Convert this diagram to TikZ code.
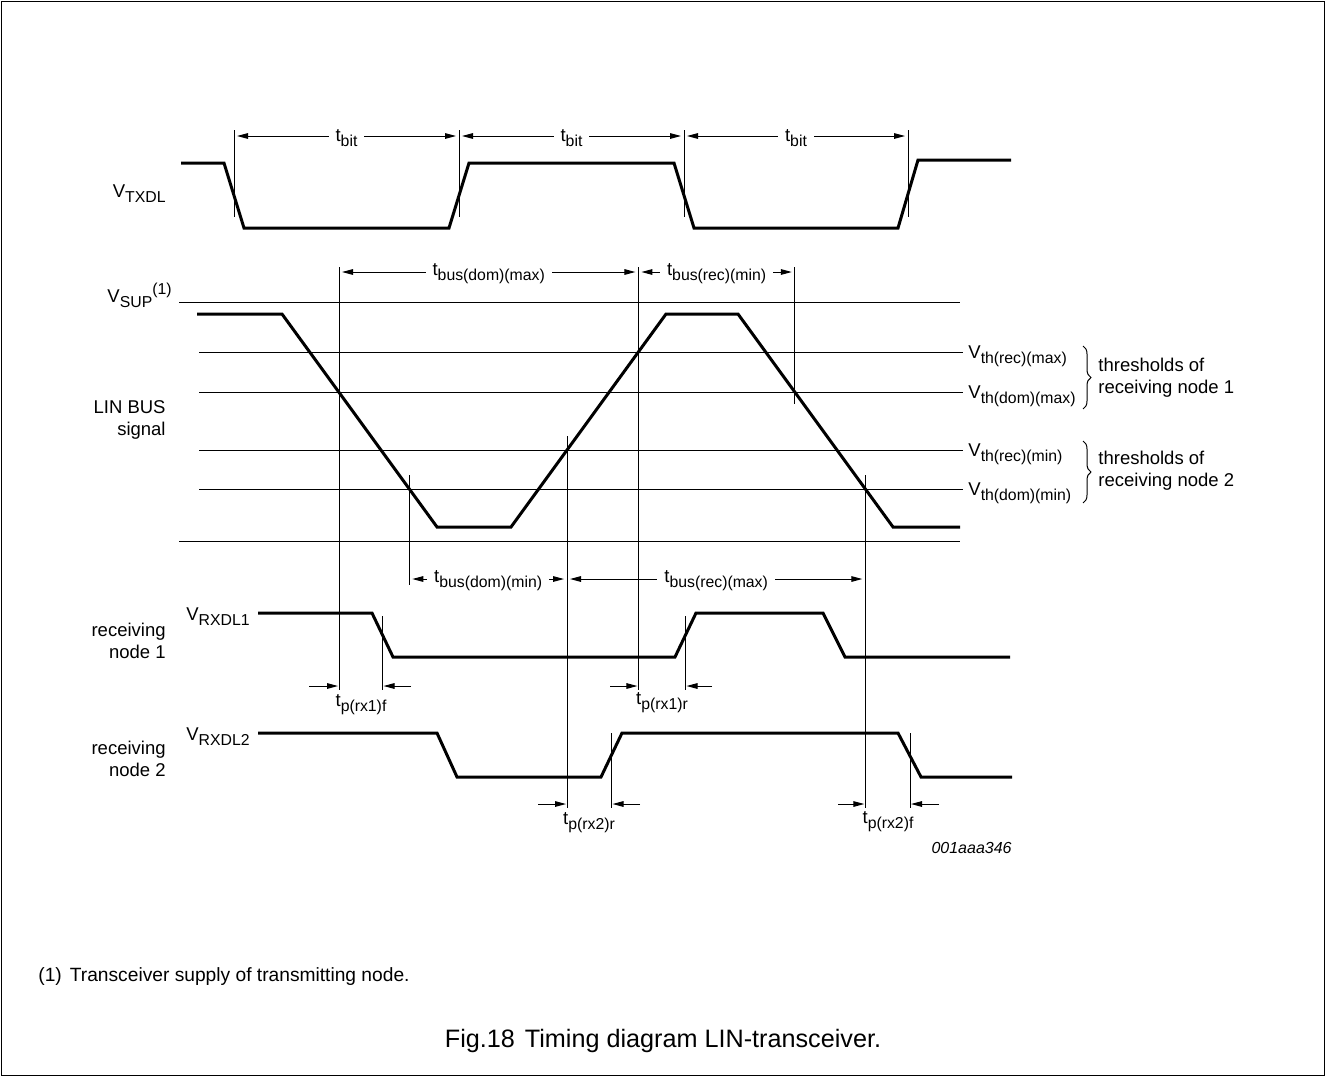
\documentclass[tikz,border=0pt]{standalone}
\usepackage{fontspec}
\setmainfont{Liberation Sans}
\usepackage{tikz}
\usetikzlibrary{arrows.meta,positioning,calc,decorations.pathreplacing}

\newcommand{\lo}[1]{\raisebox{-2.5pt}{\fontsize{7.9}{9}\selectfont #1}}
\newcommand{\hi}[1]{\raisebox{3.8pt}{\fontsize{7.9}{9}\selectfont #1}}

\begin{document}
\begin{tikzpicture}[
    x=0.5pt, y=-0.5pt,
    sig/.style={line width=1.5pt, line join=miter},
    ref/.style={line width=0.5pt},
    dim/.style={line width=0.5pt, -{Triangle[length=5.5pt,width=2.8pt]}, shorten >=0.5pt},
    dimb/.style={line width=0.5pt, {Triangle[length=5.5pt,width=2.8pt]}-{Triangle[length=5.5pt,width=2.8pt]}, shorten >=1.5pt, shorten <=1.5pt},
    lbl/.style={font=\fontsize{9.25}{11}\selectfont, inner sep=0pt},
    dlbl/.style={lbl, fill=white, inner xsep=3.5pt, inner ysep=1pt},
    brc/.style={line width=0.5pt, decorate, decoration={brace, amplitude=4pt}}
]
    \useasboundingbox (0,0) rectangle (1326,1077);
    \draw [line width=0.75pt] (1.5,1.5) rectangle (1324.5,1075.5);

    % V_TXDL
    \node [lbl, anchor=base east] (txdl) at (166,197) {V\lo{TXDL}};
    \draw [sig] (181,163) -- (224,163) -- (244,228) -- (449,228) -- (469,163) -- (674,163) -- (694,228) -- (898,228) -- (918,160) -- (1011,160);
    \foreach \x [count=\i from 0] in {234,459,684,908} {
        \coordinate (b\i) at (\x,136);
        \draw [ref] (\x,130) -- (\x,217);
    }
    \foreach \i [evaluate=\i as \j using int(\i+1)] in {0,1,2}
        \draw [dimb] (b\i) -- (b\j) node [dlbl, midway, yshift=-1pt] {t\lo{bit}};

    % LIN bus
    \node [lbl, anchor=base east] (sup) at (172,302) {V\lo{SUP}\hi{(1)}};
    \node [lbl, align=right, anchor=east] (bus) at (166,420) {LIN BUS\\signal};
    \draw [ref] (179,302) -- (960,302);
    \foreach \y in {352,392,450,489}
        \draw [ref] (199,\y) -- (963,\y);
    \draw [ref] (179,541) -- (960,541);
    \draw [sig] (197,314) -- (282,314) -- (437,527) -- (511,527) -- (666,314) -- (738,314) -- (893,527) -- (960,527);

    \node [lbl, anchor=base west] (threcmax) at (968,358) {V\lo{th(rec)(max)}};
    \node [lbl, anchor=base west] (thdommax) at (968,398) {V\lo{th(dom)(max)}};
    \node [lbl, anchor=base west] (threcmin) at (968,456) {V\lo{th(rec)(min)}};
    \node [lbl, anchor=base west] (thdommin) at (968,495) {V\lo{th(dom)(min)}};
    \draw [brc] (1083,346) -- (1083,409);
    \draw [brc] (1083,441) -- (1083,503);
    \node [lbl, align=left, anchor=west] (grp1) at (1098,378) {thresholds of\\receiving node 1};
    \node [lbl, align=left, anchor=west] (grp2) at (1098,471) {thresholds of\\receiving node 2};

    \coordinate (m1) at (339,272);
    \coordinate (m4) at (638.4,272);
    \coordinate (m5) at (794.8,272);
    \coordinate (m2) at (409.3,579);
    \coordinate (m3) at (567,579);
    \coordinate (m6) at (865.3,579);
    \draw [ref] (339,267) -- (339,690);
    \draw [ref] (638.4,267) -- (638.4,690);
    \draw [ref] (794.8,267) -- (794.8,404);
    \draw [ref] (409.3,475) -- (409.3,585);
    \draw [ref] (567,436) -- (567,808);
    \draw [ref] (865.3,475) -- (865.3,808);

    \draw [dimb] (m1) -- (m4) node [dlbl, midway, yshift=-1pt] {t\lo{bus(dom)(max)}};
    \draw [dimb] (m4) -- (m5) node [dlbl, midway, yshift=-1pt] {t\lo{bus(rec)(min)}};
    \draw [dimb] (m2) -- (m3) node [dlbl, midway, yshift=-1pt] {t\lo{bus(dom)(min)}};
    \draw [dimb] (m3) -- (m6) node [dlbl, midway, yshift=-1pt] {t\lo{bus(rec)(max)}};

    % receiving node 1
    \node [lbl, anchor=base west] (rx1) at (186,620) {V\lo{RXDL1}};
    \node [lbl, align=right, anchor=east] (rn1) at (166,641) {receiving\\node 1};
    \draw [sig] (258,613) -- (372,613) -- (393,657) -- (675,657) -- (696,613) -- (823,613) -- (845,657) -- (1010,657);
    \draw [ref] (382.5,616) -- (382.5,690);
    \draw [ref] (685.5,616) -- (685.5,690);
    \coordinate (p1a) at (309,686);
    \coordinate (p1b) at (411,686);
    \coordinate (p1c) at (610,686);
    \coordinate (p1d) at (712,686);
    \draw [dim] (p1a) -- (339,686);
    \draw [dim] (p1b) -- (382.5,686);
    \draw [dim] (p1c) -- (638.4,686);
    \draw [dim] (p1d) -- (685.5,686);
    \node [lbl] (tp1f) at (361,705) {t\lo{p(rx1)f}};
    \node [lbl] (tp1r) at (662,703) {t\lo{p(rx1)r}};

    % receiving node 2
    \node [lbl, anchor=base west] (rx2) at (186,740) {V\lo{RXDL2}};
    \node [lbl, align=right, anchor=east] (rn2) at (166,759) {receiving\\node 2};
    \draw [sig] (258,733) -- (437,733) -- (457,777) -- (601,777) -- (622,733) -- (898,733) -- (921,777) -- (1012,777);
    \draw [ref] (611.5,733) -- (611.5,808);
    \draw [ref] (910,733) -- (910,808);
    \coordinate (p2a) at (538,804);
    \coordinate (p2b) at (640,804);
    \coordinate (p2c) at (838,804);
    \coordinate (p2d) at (939,804);
    \draw [dim] (p2a) -- (567,804);
    \draw [dim] (p2b) -- (611.5,804);
    \draw [dim] (p2c) -- (865.3,804);
    \draw [dim] (p2d) -- (910,804);
    \node [lbl] (tp2r) at (589,823) {t\lo{p(rx2)r}};
    \node [lbl] (tp2f) at (888,822) {t\lo{p(rx2)f}};

    \node [lbl, font=\fontsize{8}{9}\selectfont\itshape, anchor=east] (code) at (1012,848) {001aaa346};
    \node [lbl, font=\fontsize{9.6}{11}\selectfont, anchor=base west] (note) at (38,981) {(1)\hspace{4pt}Transceiver supply of transmitting node.};
    \node [lbl, font=\fontsize{12.6}{15}\selectfont, anchor=base] (caption) at (663,1047) {Fig.18\hspace{5pt}Timing diagram LIN-transceiver.};
\end{tikzpicture}
\end{document}
